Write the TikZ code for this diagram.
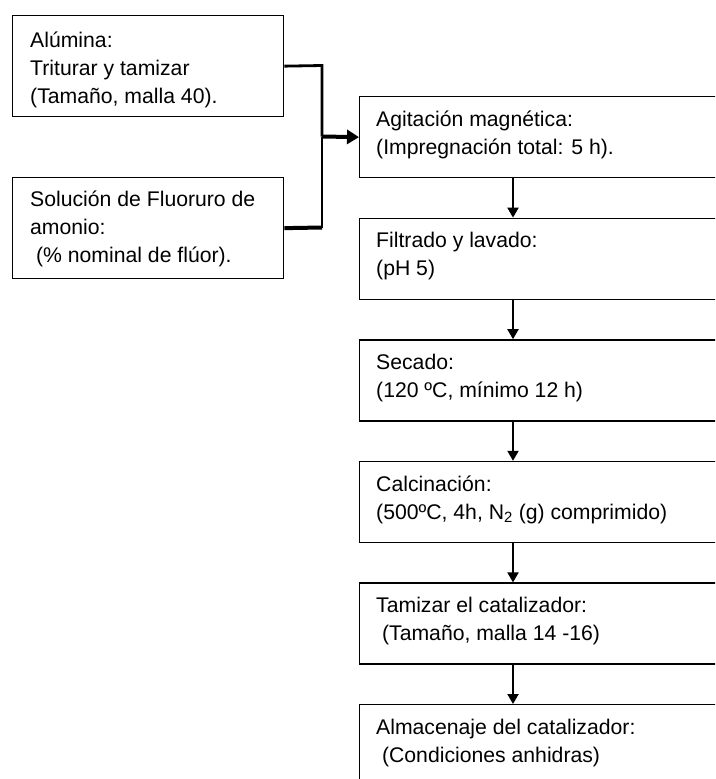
\documentclass[tikz,border=0pt]{standalone}
\usepackage{fontspec}
\setmainfont{Liberation Sans}
\usetikzlibrary{arrows.meta,calc}
\tikzset{
  box/.style={draw=black, line width=1.3pt, rectangle, inner sep=0pt, anchor=north west, fill=white},
  lbox/.style={box, minimum width=271pt, minimum height=101pt},
  rbox/.style={box, minimum width=380pt, minimum height=81pt},
  txt/.style={anchor=north west, inner sep=0pt, align=left, font=\fontsize{21.2}{28}\selectfont},
  downarrow/.style={line width=2pt, -{Triangle[length=10pt,width=11pt]}},
  joinline/.style={line width=2.8pt},
  joinlineb/.style={line width=4pt},
  bigarrow/.style={line width=4pt, -{Triangle[length=12pt,width=14pt]}}
}
\begin{document}
\begin{tikzpicture}[x=1pt,y=-1pt]
\useasboundingbox (0,0) rectangle (715,779);
\fill[white] (0,0) rectangle (715,779);
\clip (0,0) rectangle (715,779);
% left boxes
\node[lbox] (a) at (12,15) {};
\node[txt] (at) at (30,31.5) {Alúmina:\\Triturar y tamizar\\(Tamaño, malla 40).};
\node[lbox] (b) at (12,177) {};
\node[txt] (bt) at (30,190.5) {Solución de Fluoruro de\\amonio:\\\ (\% nominal de flúor).};
% right boxes
\node[rbox] (r1) at (359,96) {};
\node[txt] (t1) at (376,110.5) {Agitación magnética:\\(Impregnación total: 5 h).};
\node[rbox] (r2) at (359,217.6) {};
\node[txt] (t2) at (376,232.1) {Filtrado y lavado:\\(pH 5)};
\node[rbox] (r3) at (359,339.2) {};
\node[txt] (t3) at (376,353.7) {Secado:\\(120 ºC, mínimo 12 h)};
\node[rbox] (r4) at (359,460.8) {};
\node[txt] (t4) at (376,475.3) {Calcinación:\\(500ºC, 4h, N\textsubscript{2} (g) comprimido)};
\node[rbox] (r5) at (359,582.4) {};
\node[txt] (t5) at (376,596.9) {Tamizar el catalizador:\\\ (Tamaño, malla 14 -16)};
\node[rbox] (r6) at (359,704) {};
\node[txt] (t6) at (376,718.5) {Almacenaje del catalizador:\\\ (Condiciones anhidras)};
% joining connectors
\coordinate (ja) at (322,65.5);
\coordinate (jb) at (322,227.5);
\coordinate (jm) at (322,136.5);
\draw[joinline] (a.east) -- (ja) -- (jm);
\draw[joinlineb] (b.east) -- (jb);
\draw[joinline] (jb) -- (jm);
\draw[bigarrow] (jm) -- (r1.west);
% down arrows
\foreach \u/\v in {r1/r2,r2/r3,r3/r4,r4/r5,r5/r6}{
  \draw[downarrow] ($(\u.south west)+(154,0)$) -- ($(\v.north west)+(154,0)$);
}
\end{tikzpicture}
\end{document}
